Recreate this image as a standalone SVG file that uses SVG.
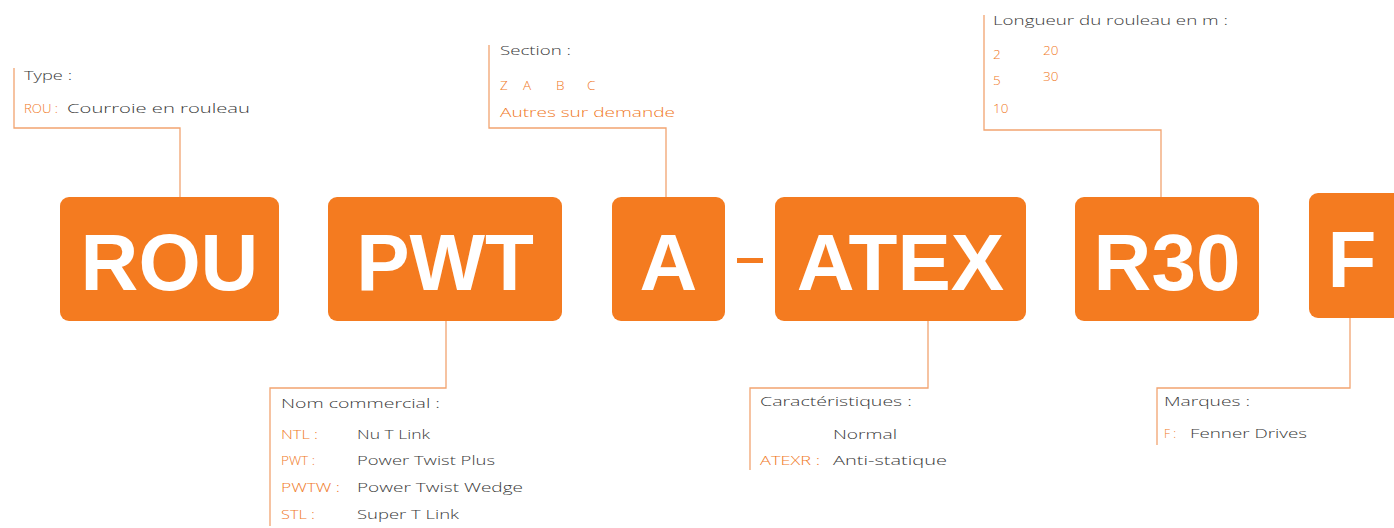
<svg xmlns="http://www.w3.org/2000/svg" width="1394" height="528" viewBox="0 0 1394 528">
<style>
.box{fill:#F47B20}
.code{font-family:"Liberation Sans",Arial,sans-serif;font-weight:700;font-size:80px;fill:#fff;text-anchor:middle}
.lbl{font-family:"Open Sans","DejaVu Sans",sans-serif;font-weight:300;font-size:13.5px;fill:#3a3a3a}
.or{font-family:"Open Sans","DejaVu Sans",sans-serif;font-weight:300;font-size:13.5px;fill:#F07A28}
.conn{fill:none;stroke:#F2A470;stroke-width:1.3}
</style>
<rect width="1394" height="528" fill="#fff"/>
<g id="connectors">
<polyline class="conn" points="14,68 14,128 180,128 180,197"/>
<polyline class="conn" points="489,45 489,128 666,128 666,197"/>
<polyline class="conn" points="984,15 984,130 1161,130 1161,197"/>
<polyline class="conn" points="446,321 446,388 270,388 270,526"/>
<polyline class="conn" points="928,321 928,388 750,388 750,470"/>
<polyline class="conn" points="1350,318 1350,388 1157,388 1157,445"/>
</g>
<g id="node-rou">
<rect class="box" x="60" y="197" width="219" height="124" rx="9"/>
<text class="code" x="169.5" y="290">ROU</text>
</g>
<g id="node-pwt">
<rect class="box" x="328" y="197" width="234" height="124" rx="9"/>
<text class="code" x="445" y="290">PWT</text>
</g>
<g id="node-a">
<rect class="box" x="612" y="197" width="113" height="124" rx="9"/>
<text class="code" x="668.5" y="290">A</text>
</g>
<g id="dash">
<rect class="box" x="737" y="258" width="26" height="5"/>
</g>
<g id="node-atex">
<rect class="box" x="775" y="197" width="251" height="124" rx="9"/>
<text class="code" x="900.5" y="290">ATEX</text>
</g>
<g id="node-r30">
<rect class="box" x="1075" y="197" width="184" height="124" rx="9"/>
<text class="code" x="1167" y="290">R30</text>
</g>
<g id="node-f">
<rect class="box" x="1309" y="193" width="95" height="125" rx="9"/>
<text class="code" x="1352" y="287">F</text>
</g>
<g id="label-type">
<text class="lbl" x="24" y="80" textLength="48" lengthAdjust="spacingAndGlyphs">Type :</text>
<text class="or" x="24" y="113" textLength="34" lengthAdjust="spacingAndGlyphs">ROU :</text>
<text class="lbl" x="67" y="113" textLength="183" lengthAdjust="spacingAndGlyphs">Courroie en rouleau</text>
</g>
<g id="label-section">
<text class="lbl" x="500" y="55" textLength="71" lengthAdjust="spacingAndGlyphs">Section :</text>
<text class="or" x="500" y="90">Z</text>
<text class="or" x="523" y="90">A</text>
<text class="or" x="556" y="90">B</text>
<text class="or" x="587" y="90">C</text>
<text class="or" x="500" y="117" textLength="175" lengthAdjust="spacingAndGlyphs">Autres sur demande</text>
</g>
<g id="label-longueur">
<text class="lbl" x="993" y="25" textLength="235" lengthAdjust="spacingAndGlyphs">Longueur du rouleau en m :</text>
<text class="or" x="993" y="59">2</text>
<text class="or" x="1043" y="55">20</text>
<text class="or" x="993" y="85">5</text>
<text class="or" x="1043" y="81">30</text>
<text class="or" x="993" y="113">10</text>
</g>
<g id="label-nom">
<text class="lbl" x="281" y="408" textLength="159" lengthAdjust="spacingAndGlyphs">Nom commercial :</text>
<text class="or" x="281" y="439" textLength="37" lengthAdjust="spacingAndGlyphs">NTL :</text>
<text class="lbl" x="357" y="439" textLength="73" lengthAdjust="spacingAndGlyphs">Nu T Link</text>
<text class="or" x="281" y="465" textLength="34" lengthAdjust="spacingAndGlyphs">PWT :</text>
<text class="lbl" x="357" y="465" textLength="138" lengthAdjust="spacingAndGlyphs">Power Twist Plus</text>
<text class="or" x="281" y="492" textLength="59" lengthAdjust="spacingAndGlyphs">PWTW :</text>
<text class="lbl" x="357" y="492" textLength="166" lengthAdjust="spacingAndGlyphs">Power Twist Wedge</text>
<text class="or" x="281" y="519" textLength="34" lengthAdjust="spacingAndGlyphs">STL :</text>
<text class="lbl" x="357" y="519" textLength="102" lengthAdjust="spacingAndGlyphs">Super T Link</text>
</g>
<g id="label-caract">
<text class="lbl" x="760" y="406" textLength="152" lengthAdjust="spacingAndGlyphs">Caractéristiques :</text>
<text class="lbl" x="833" y="439" textLength="64" lengthAdjust="spacingAndGlyphs">Normal</text>
<text class="or" x="760" y="465" textLength="60" lengthAdjust="spacingAndGlyphs">ATEXR :</text>
<text class="lbl" x="833" y="465" textLength="114" lengthAdjust="spacingAndGlyphs">Anti-statique</text>
</g>
<g id="label-marques">
<text class="lbl" x="1164" y="406" textLength="86" lengthAdjust="spacingAndGlyphs">Marques :</text>
<text class="or" x="1164" y="438" textLength="12" lengthAdjust="spacingAndGlyphs">F :</text>
<text class="lbl" x="1190" y="438" textLength="117" lengthAdjust="spacingAndGlyphs">Fenner Drives</text>
</g>
</svg>
